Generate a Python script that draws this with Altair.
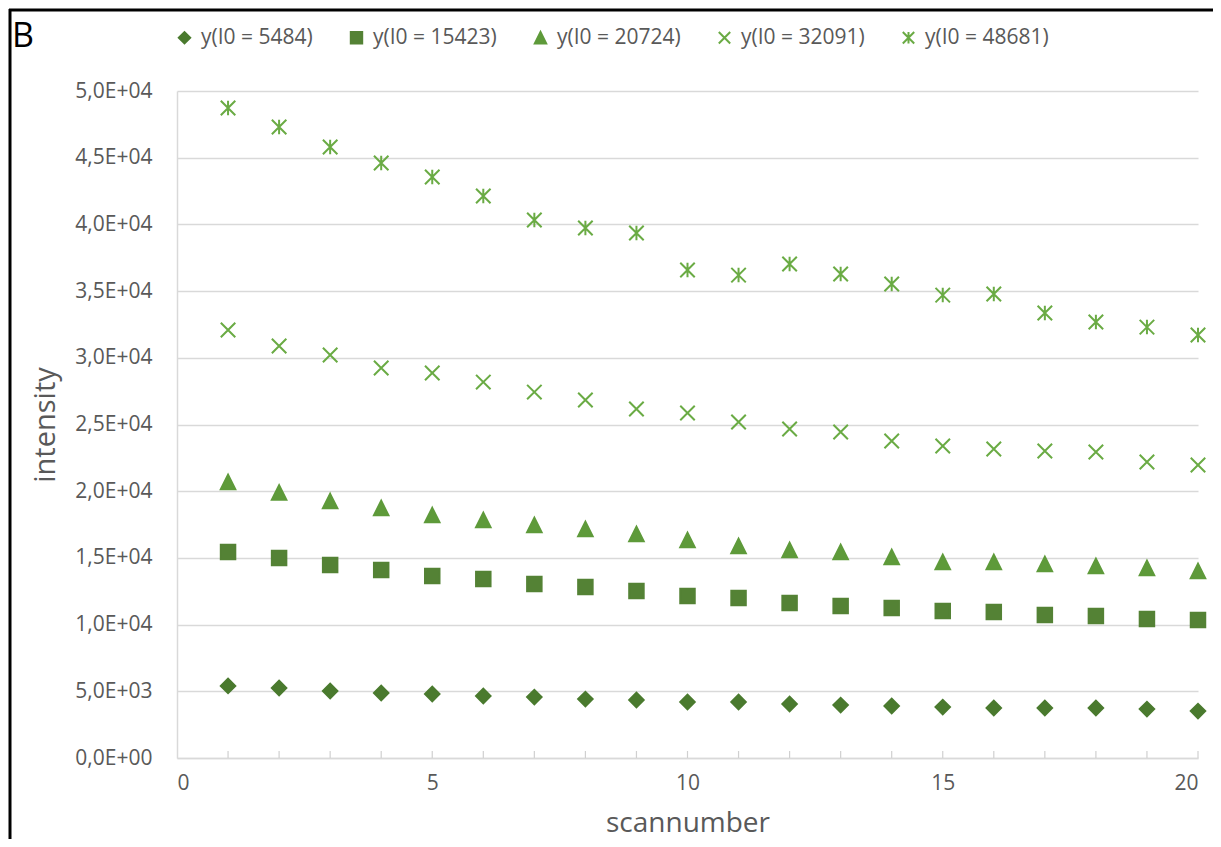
import altair as alt
import pandas as pd

scans = list(range(1, 21))
series_labels = ["y(I0 = 5484)", "y(I0 = 15423)", "y(I0 = 20724)", "y(I0 = 32091)", "y(I0 = 48681)"]
s5484 = [5400, 5250, 5020, 4870, 4800, 4650, 4570, 4420, 4350, 4200, 4200, 4050, 3970, 3900, 3820, 3750, 3750, 3750, 3670, 3520]
s15423 = [15440, 14990, 14470, 14090, 13640, 13420, 13040, 12820, 12520, 12140, 11990, 11620, 11390, 11240, 11020, 10940, 10720, 10640, 10420, 10340]
s20724 = [20690, 19900, 19260, 18740, 18210, 17840, 17470, 17170, 16790, 16340, 15890, 15590, 15440, 15070, 14690, 14690, 14540, 14390, 14240, 14020]
s32091 = [32080, 30880, 30210, 29230, 28860, 28180, 27430, 26840, 26160, 25860, 25190, 24660, 24440, 23760, 23390, 23160, 23010, 22940, 22190, 21960]
s48681 = [48730, 47300, 45800, 44600, 43550, 42130, 40330, 39730, 39350, 36580, 36200, 37030, 36280, 35530, 34700, 34780, 33360, 32680, 32300, 31710]
x_tick_values = [0, 5, 10, 15, 20]
y_tick_values = [0, 5000, 10000, 15000, 20000, 25000, 30000, 35000, 40000, 45000, 50000]

all_series = [s5484, s15423, s20724, s32091, s48681]
rows = []
for lab, vals in zip(series_labels, all_series):
    for s, v in zip(scans, vals):
        rows.append({"scan": s, "intensity": v, "series": lab})
df = pd.DataFrame(rows)
ticks_df = pd.DataFrame({"scan": scans})
one = pd.DataFrame({"a": [0]})

stroke_colors = ["#4a7a2e", "#548235", "#5e9a3a", "#6aab44", "#6aab44"]
fill_colors = ["#4a7a2e", "#548235", "#5e9a3a", "transparent", "transparent"]
shapes = ["diamond", "square", "M0,-1L1,1L-1,1Z", "M-1,-1L1,1M-1,1L1,-1", "M-1,-1L1,1M-1,1L1,-1M0,-1L0,1"]

FONT = "Open Sans"
GRAY = "#595959"

legend = alt.Legend(
    title=None, orient="none", legendX=-3, legendY=-64, direction="horizontal",
    columns=5, columnPadding=33, labelFont=FONT, labelFontSize=21, labelColor=GRAY,
    symbolSize=130, symbolStrokeWidth=2, labelOffset=6, padding=0,
)

ylabel = ("datum.value == 0 ? '0,0E+00' : replace(format(datum.value / pow(10, floor(log(datum.value)/LN10 + 1e-9)), '.1f'), '.', ',')"
          " + 'E+' + (floor(log(datum.value)/LN10 + 1e-9) < 10 ? '0' : '') + floor(log(datum.value)/LN10 + 1e-9)")

x_enc = alt.X("scan:Q", scale=alt.Scale(domain=[0, 20], nice=False),
              axis=alt.Axis(values=x_tick_values, grid=False, ticks=False, domainColor="#d9d9d9", domainWidth=1.5,
                            labelFont=FONT, labelFontSize=21, labelColor=GRAY, labelPadding=14,
                            title="scannumber", titleFont=FONT, titleFontSize=28, titleFontWeight="normal",
                            titleColor=GRAY, titlePadding=16))
y_enc = alt.Y("intensity:Q", scale=alt.Scale(domain=[0, 50000], nice=False),
              axis=alt.Axis(values=y_tick_values, grid=True, gridColor="#d9d9d9", gridWidth=1.5, ticks=False,
                            domainColor="#d9d9d9", domainWidth=1.5, labelExpr=ylabel,
                            labelFont=FONT, labelFontSize=21, labelColor=GRAY, labelPadding=25,
                            title="intensity", titleFont=FONT, titleFontSize=29, titleFontWeight="normal",
                            titleColor=GRAY, titlePadding=14))

points = alt.Chart(df).mark_point(strokeWidth=2, opacity=1, size=210).encode(
    x=x_enc,
    y=y_enc,
    shape=alt.Shape("series:N", scale=alt.Scale(domain=series_labels, range=shapes), legend=legend),
    fill=alt.Fill("series:N", scale=alt.Scale(domain=series_labels, range=fill_colors), legend=legend),
    stroke=alt.Stroke("series:N", scale=alt.Scale(domain=series_labels, range=stroke_colors), legend=legend),
)

minor = alt.Chart(ticks_df).mark_rule(color="#d0d0d0", strokeWidth=1.2).encode(
    x="scan:Q", y=alt.value(667), y2=alt.value(660)
)

border_left = alt.Chart(one).mark_rule(color="black", strokeWidth=3).encode(
    x=alt.value(-167), y=alt.value(-82), y2=alt.value(760)
)
border_top = alt.Chart(one).mark_rule(color="black", strokeWidth=3).encode(
    x=alt.value(-168), x2=alt.value(1040), y=alt.value(-81)
)
label_b = alt.Chart(one).mark_text(text="B", align="left", baseline="alphabetic", fontSize=34,
                                   font=FONT, color="black").encode(
    x=alt.value(-165), y=alt.value(-44)
)

chart = alt.layer(minor, points, border_left, border_top, label_b).properties(
    width=1021, height=667,
    autosize=alt.AutoSizeParams(type="none"),
    padding={"left": 169, "top": 83, "right": 15, "bottom": 81},
).configure_view(stroke=None)

chart.save("out.html", embed_options={"renderer": "svg", "actions": False})
